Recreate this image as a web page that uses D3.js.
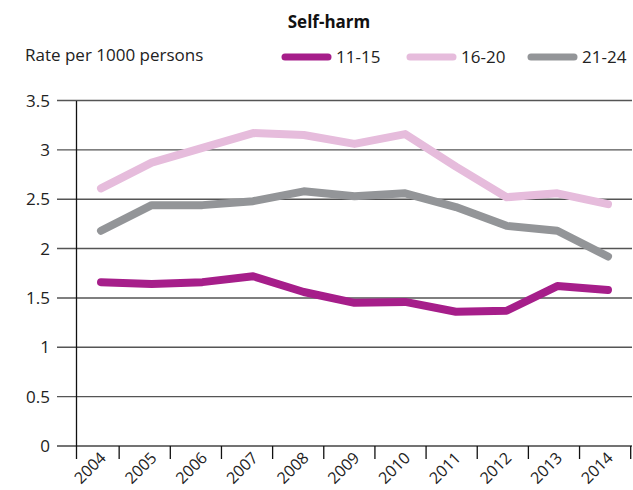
<!DOCTYPE html>
<html><head><meta charset="utf-8">
<script src="https://cdn.jsdelivr.net/npm/d3@7"></script>
<style>body{margin:0;background:#fff}svg{display:block;font-family:"Open Sans",sans-serif}</style>
</head><body><svg id="c" width="633" height="490"></svg>
<script>
const years = ["2004","2005","2006","2007","2008","2009","2010","2011","2012","2013","2014"];
const seriesNames = ["11-15","16-20","21-24"];
const colors = ["#a61e8a","#e6bcdc","#939598"];
const v1115 = [1.66,1.64,1.66,1.72,1.56,1.45,1.46,1.36,1.37,1.62,1.58];
const v1620 = [2.61,2.87,3.02,3.17,3.15,3.06,3.16,2.83,2.52,2.56,2.45];
const v2124 = [2.18,2.44,2.44,2.48,2.58,2.53,2.56,2.42,2.23,2.18,1.92];
const yTicks = [0,0.5,1,1.5,2,2.5,3,3.5];
const title = "Self-harm";
const yTitle = "Rate per 1000 persons";

const data = [v1115, v1620, v2124];
const svg = d3.select("#c");
const y = d3.scaleLinear().domain([0,3.5]).range([446,100.5]);
const x = d3.scalePoint().domain(years).range([101,608]);
const xb = d3.scaleBand().domain(years).range([68,630.7]).paddingInner(0).paddingOuter(0);

// gridlines
svg.append("g").selectAll("line").data(yTicks).join("line")
  .attr("x1",57).attr("x2",632).attr("y1",d=>y(d)).attr("y2",d=>y(d))
  .attr("stroke",d=>d===0?"#444":"#555").attr("stroke-width",1.4);
// y labels
svg.append("g").selectAll("text").data(yTicks).join("text")
  .attr("x",50).attr("y",d=>y(d)+6).attr("text-anchor","end")
  .attr("font-size",17).attr("fill","#222").text(d=>d);
// y axis line
svg.append("line").attr("x1",76.5).attr("x2",76.5).attr("y1",101).attr("y2",459)
  .attr("stroke","#111").attr("stroke-width",1.3);
// x ticks at band boundaries
svg.append("g").selectAll("line").data(years.slice(1).concat(["end"])).join("line")
  .attr("x1",d=>d==="end"?xb.range()[1]:xb(d)).attr("x2",d=>d==="end"?xb.range()[1]:xb(d))
  .attr("y1",446).attr("y2",459).attr("stroke","#111").attr("stroke-width",1.3);
// x labels
svg.append("g").selectAll("text").data(years).join("text")
  .attr("transform",d=>`translate(${x(d)-2},${451}) rotate(-45)`)
  .attr("text-anchor","end").attr("dy","0.7em")
  .attr("font-size",16).attr("fill","#222").text(d=>d);

// lines
const line = d3.line().x((d,i)=>x(years[i])).y(d=>y(d));
svg.append("g").selectAll("path").data(data).join("path")
  .attr("d",line).attr("fill","none").attr("stroke",(d,i)=>colors[i])
  .attr("stroke-width",8).attr("stroke-linecap","round").attr("stroke-linejoin","round");

// title
svg.append("text").attr("x",329).attr("y",28).attr("text-anchor","middle")
  .attr("font-size",17).attr("font-weight","bold").attr("fill","#111").text(title);
svg.append("text").attr("x",25).attr("y",61).attr("font-size",17).attr("fill","#222").text(yTitle);

// legend
const lx = [282,407,528];
const lg = svg.append("g").selectAll("g").data(seriesNames).join("g")
  .attr("transform",(d,i)=>`translate(${lx[i]},57)`);
lg.append("line").attr("x1",3).attr("x2",46).attr("y1",0).attr("y2",0)
  .attr("stroke",(d,i)=>colors[i]).attr("stroke-width",7).attr("stroke-linecap","round");
lg.append("text").attr("x",54).attr("y",6).attr("font-size",17).attr("fill","#222").text(d=>d);
</script></body></html>
